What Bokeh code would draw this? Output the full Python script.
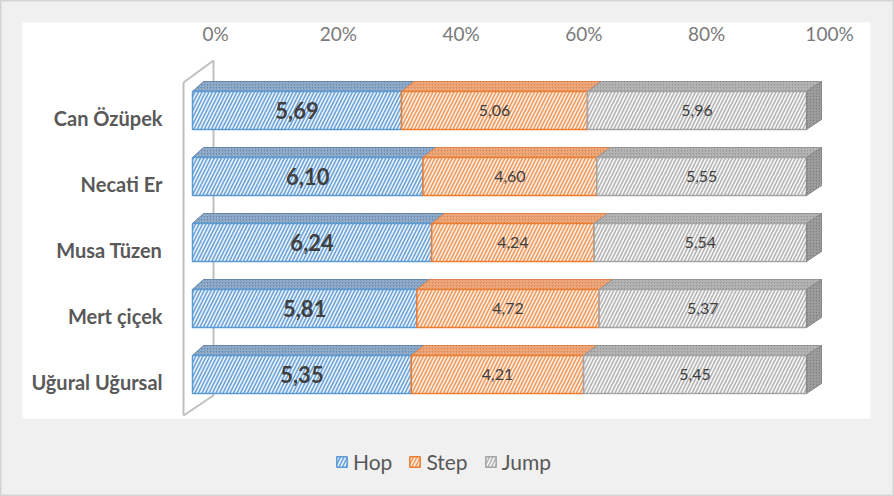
from bokeh.plotting import figure
from bokeh.models import Range1d, ColumnDataSource, Legend, LegendItem
from bokeh.core.properties import value
from bokeh.embed import file_html
from bokeh.resources import INLINE

# ---------------- data ----------------
athletes = ["Can Özüpek", "Necati Er", "Musa Tüzen", "Mert çiçek", "Uğural Uğursal"]
hop = [5.69, 6.10, 6.24, 5.81, 5.35]
step = [5.06, 4.60, 4.24, 4.72, 4.21]
jump = [5.96, 5.55, 5.54, 5.37, 5.45]
series_names = ["Hop", "Step", "Jump"]
tick_values = [0, 20, 40, 60, 80, 100]
tick_labels = ["0%", "20%", "40%", "60%", "80%", "100%"]

# ---------------- geometry / style constants ----------------
W, H = 894, 496
PX = 6.14          # pixels per percent
PY = 66.0          # pixels per row
X0PX = 192.0       # pixel of 0 %
Y0PX = 110.0       # pixel of first row centre

def xpx(px):       # pixel -> data (x)
    return (px - X0PX) / PX

def ypx(py):       # pixel -> data (y)
    return (py - Y0PX) / PY

HH = 19 / PY       # half bar height (rows)
DY = 10 / PY       # depth rise

def dx(v):         # perspective depth shift (percent units)
    return (11 + 4 * v / 100.0) / PX

FONT = "Lato"
HATCH = "right_diagonal_line"

front_fill = ["#eaf2fb", "#fdeee4", "#f7f7f7"]
front_hatch = ["#6ea3d8", "#f09a5c", "#b4b4b4"]
front_line = ["#5b9bd5", "#ed7d31", "#a5a5a5"]
top_fill = ["#6688ad", "#dc8550", "#949494"]
top_hatch = ["#a3bcd8", "#f5b891", "#c4c4c4"]

p = figure(width=W, height=H, output_backend="svg", toolbar_location=None,
           x_range=Range1d(xpx(0), xpx(W)), y_range=Range1d(ypx(H), ypx(0)),
           x_axis_location=None, y_axis_location=None, min_border=0,
           background_fill_color="#f0f0f0", border_fill_color="#f0f0f0")
p.grid.visible = False
p.outline_line_color = "#d4d4d4"
p.outline_line_width = 2

# white chart area
p.quad(left=[xpx(22)], right=[xpx(870)], top=[ypx(22)], bottom=[ypx(418)],
       fill_color="white", line_color=None)

# side wall (3D)
wall_xs = [[xpx(183), xpx(183)], [xpx(183), xpx(213)], [xpx(213), xpx(213)], [xpx(183), xpx(213)]]
wall_ys = [[ypx(415), ypx(82)], [ypx(82), ypx(60)], [ypx(60), ypx(395)], [ypx(415), ypx(395)]]
p.multi_line(xs=wall_xs, ys=wall_ys, line_color="#bfbfbf", line_width=2)

# percentages
series = [hop, step, jump]
totals = [h + s + j for h, s, j in zip(hop, step, jump)]
pct = [[v / t * 100 for v, t in zip(ser, totals)] for ser in series]
rows = list(range(len(athletes)))

front_renderers = []
left = [0.0] * len(athletes)
for k in range(3):
    right = [l + v for l, v in zip(left, pct[k])]
    # top faces
    xs, ys = [], []
    for r, l, rt in zip(rows, left, right):
        yt = r - HH
        xs.append([l, rt, rt + dx(rt), l + dx(l)])
        ys.append([yt, yt, yt - DY, yt - DY])
    p.patches(xs=xs, ys=ys, fill_color=top_fill[k], hatch_pattern=HATCH,
              hatch_color=top_hatch[k], hatch_scale=3, hatch_weight=1,
              line_color=top_fill[k], line_width=1)
    # front faces
    src = ColumnDataSource(dict(left=left, right=right,
                                top=[r - HH for r in rows], bottom=[r + HH for r in rows]))
    fr = p.quad(left="left", right="right", top="top", bottom="bottom", source=src,
                fill_color=front_fill[k], hatch_pattern=HATCH,
                hatch_color=front_hatch[k], hatch_scale=7, hatch_weight=1.6,
                line_color=front_line[k], line_width=1.5)
    front_renderers.append(fr)
    # data labels
    lab = [f"{v:.2f}".replace(".", ",") for v in series[k]]
    cx = [(l + rt) / 2 for l, rt in zip(left, right)]
    if k == 0:
        p.text(x=cx, y=rows, text=lab, text_align="center", text_baseline="middle",
               text_font=value(FONT), text_font_style="bold", text_font_size="22px",
               text_color="#404040")
    else:
        p.text(x=cx, y=rows, text=lab, text_align="center", text_baseline="middle",
               text_font=value(FONT), text_font_size="16px", text_color="#404040")
    if k == 2:
        sx, sy = [], []
        for r, rt in zip(rows, right):
            yt, yb = r - HH, r + HH
            sx.append([rt, rt + dx(rt), rt + dx(rt), rt])
            sy.append([yt, yt - DY, yb - DY, yb])
        p.patches(xs=sx, ys=sy, fill_color="#808080", hatch_pattern=HATCH,
                  hatch_color="#ababab", hatch_scale=3, hatch_weight=1,
                  line_color="#8a8a8a", line_width=1)
    left = right

# top axis tick labels (drawn on the back plane)
back_shift = 23 / PX
p.text(x=[t + back_shift for t in tick_values], y=[ypx(33)] * len(tick_values), text=tick_labels,
       text_align="center", text_baseline="middle", text_font=value(FONT),
       text_font_size="19px", text_color="#7a7a7a")

# category labels
p.text(x=[xpx(162)] * len(athletes), y=[r + 7 / PY for r in rows], text=athletes,
       text_align="right", text_baseline="middle", text_font=value(FONT),
       text_font_style="bold", text_font_size="20px", text_color="#595959")

legend = Legend(items=[LegendItem(label=n, renderers=[r]) for n, r in zip(series_names, front_renderers)],
                orientation="horizontal", location=(335, 22), background_fill_alpha=0,
                border_line_color=None, padding=0, margin=0, spacing=16,
                glyph_width=13, glyph_height=13, label_standoff=5,
                label_text_font=FONT, label_text_font_size="21px", label_text_color="#595959")
p.add_layout(legend)

open("out.html", "w").write(file_html(p, INLINE))
